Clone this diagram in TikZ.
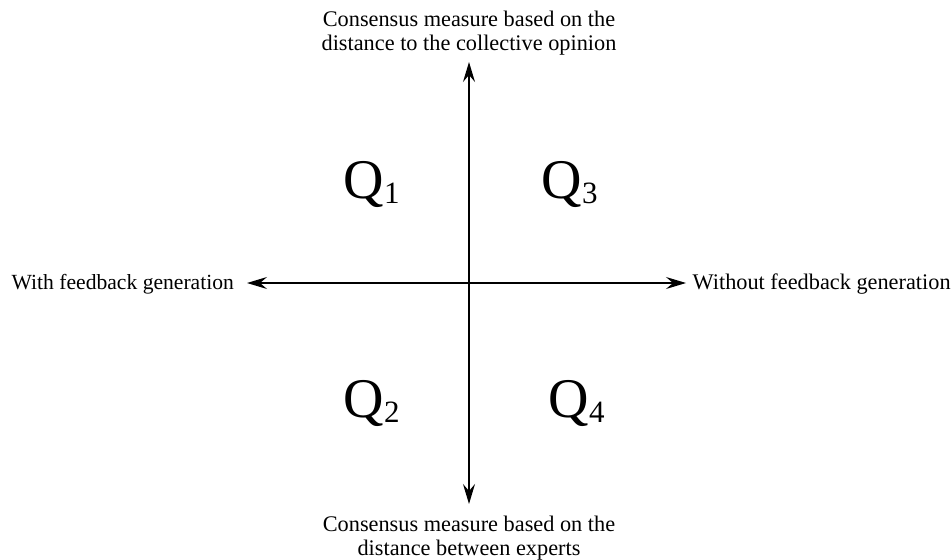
\documentclass[tikz,border=0pt]{standalone}
\usepackage{fontspec}
\setmainfont{Liberation Serif}
\usetikzlibrary{arrows.meta}

\newcommand{\qmark}[1]{{\fontsize{56}{56}\selectfont Q}{\fontsize{31}{31}\selectfont\raisebox{-5pt}{#1}}}

\begin{document}
\begin{tikzpicture}[x=1pt, y=-1pt, line width=1.4pt,
    every node/.style={font=\fontsize{22.3}{24.5}\selectfont, inner sep=0pt},
    axislabel/.style={align=center, anchor=north},
    quadlabel/.style={anchor=base west},
    >={Stealth[length=20pt,width=12pt,inset=7pt]}]
  \useasboundingbox (0,0) rectangle (952,559);

  % Axis end points
  \coordinate (west) at (247,283);
  \coordinate (east) at (686,283);
  \coordinate (north) at (469,62);
  \coordinate (south) at (469,504);

  % Axes
  \draw[<->] (west) -- (east);
  \draw[<->] (north) -- (south);

  % Axis labels
  \node[axislabel] (collective) at (469,10) {Consensus measure based on the\\distance to the collective opinion};
  \node[axislabel] (experts) at (469,515) {Consensus measure based on the\\distance between experts};
  \node[anchor=base west, font=\fontsize{21.6}{25}\selectfont] (withfb) at (11,289) {With feedback generation};
  \node[anchor=base west] (withoutfb) at (692,289) {Without feedback generation};

  % Quadrants
  \node[quadlabel] (q1) at (343,198) {\qmark{1}};
  \node[quadlabel] (q3) at (541,198) {\qmark{3}};
  \node[quadlabel] (q2) at (343,417) {\qmark{2}};
  \node[quadlabel] (q4) at (548,417) {\qmark{4}};
\end{tikzpicture}
\end{document}
